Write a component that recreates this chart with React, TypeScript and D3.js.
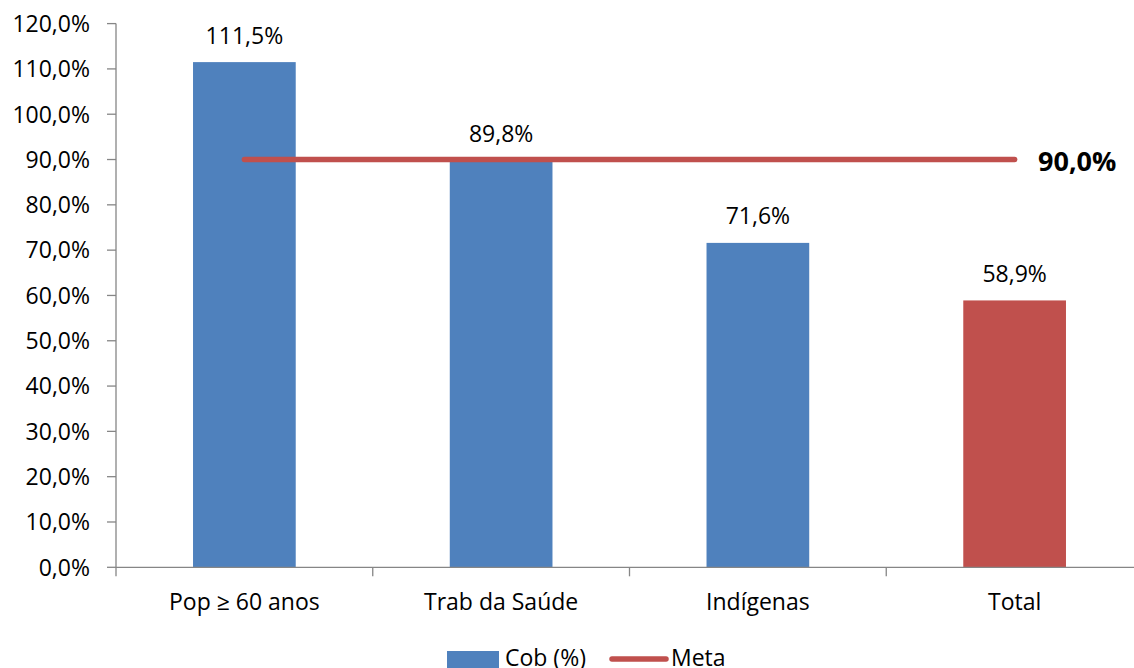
import React from "react";
import * as d3 from "d3";

const categories = ["Pop ≥ 60 anos", "Trab da Saúde", "Indígenas", "Total"];
const cobValues = [111.5, 89.8, 71.6, 58.9];
const barColors = ["#4F81BD", "#4F81BD", "#4F81BD", "#C0504D"];
const metaValue = 90;
const yTicks = [0, 10, 20, 30, 40, 50, 60, 70, 80, 90, 100, 110, 120];
const legendLabels = ["Cob (%)", "Meta"];

const W = 1134;
const H = 668;
const FONT = "'Open Sans', 'Noto Sans', sans-serif";

const fmt = (v: number) => v.toFixed(1).replace(".", ",") + "%";

export default function App() {
  const x = d3.scaleBand<string>().domain(categories).range([116, 1143]).paddingInner(0.6).paddingOuter(0.3);
  const y = d3.scaleLinear().domain([0, 120]).range([567.3, 23.6]);
  const step = x.step();
  const axisColor = "#868686";
  const centers = categories.map((c) => (x(c) as number) + x.bandwidth() / 2);
  const metaLine = d3.line<number>().x((d) => d).y(() => y(metaValue));
  const catBounds = d3.range(categories.length + 1).map((i) => 116 + i * step);

  return (
    <svg width={W} height={H} style={{ position: "absolute", left: 0, top: 0, background: "#fff" }} fontFamily={FONT}>
      <rect x={0} y={0} width={W} height={H} fill="#fff" />
      {/* bars */}
      {categories.map((c, i) => (
        <rect key={c} x={x(c)} y={y(cobValues[i])} width={x.bandwidth()} height={y(0) - y(cobValues[i])} fill={barColors[i]} />
      ))}
      {/* y axis */}
      <line x1={116} x2={116} y1={y(120)} y2={y(0)} stroke={axisColor} strokeWidth={1.3} />
      {yTicks.map((t) => (
        <g key={t}>
          <line x1={107} x2={116} y1={y(t)} y2={y(t)} stroke={axisColor} strokeWidth={1.3} />
          <text x={90} y={y(t) + 8.3} textAnchor="end" fontSize={23} fill="#000">{fmt(t)}</text>
        </g>
      ))}
      {/* x axis */}
      <line x1={116} x2={1143} y1={y(0)} y2={y(0)} stroke={axisColor} strokeWidth={1.3} />
      {catBounds.map((b, i) => (
        <line key={i} x1={b} x2={b} y1={y(0)} y2={y(0) + 9} stroke={axisColor} strokeWidth={1.3} />
      ))}
      {categories.map((c, i) => (
        <text key={c} x={centers[i]} y={609.5} textAnchor="middle" fontSize={23} fill="#000">{c}</text>
      ))}
      {/* data labels */}
      {categories.map((c, i) => (
        <text key={c + "l"} x={centers[i]} y={y(cobValues[i]) - 18.5} textAnchor="middle" fontSize={23} fill="#000">{fmt(cobValues[i])}</text>
      ))}
      {/* meta line */}
      <path d={metaLine([centers[0], centers[centers.length - 1]]) as string} stroke="#C0504D" strokeWidth={5.5} strokeLinecap="round" fill="none" />
      <text x={1038} y={y(metaValue) + 11.5} fontSize={27} fontWeight="bold" fill="#000">{fmt(metaValue)}</text>
      {/* legend */}
      <rect x={447} y={651} width={52} height={17} fill="#4F81BD" />
      <text x={505} y={666} fontSize={23} fill="#000">{legendLabels[0]}</text>
      <line x1={612} x2={666} y1={659} y2={659} stroke="#C0504D" strokeWidth={5.5} strokeLinecap="round" />
      <text x={671} y={666} fontSize={23} fill="#000">{legendLabels[1]}</text>
    </svg>
  );
}
